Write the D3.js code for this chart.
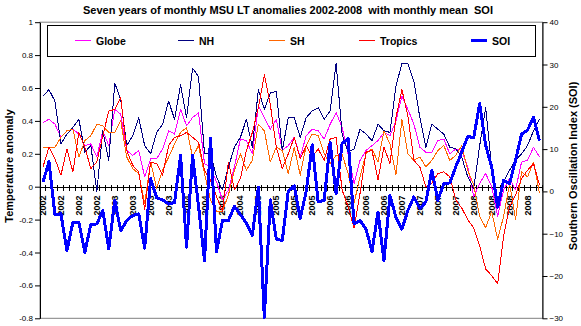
<!DOCTYPE html>
<html>
<head>
<meta charset="utf-8">
<script src="https://cdn.jsdelivr.net/npm/d3@7"></script>
<style>
  body { margin: 0; background: #fff; }
  svg { display: block; font-family: "Liberation Sans", Arial, sans-serif; }
</style>
</head>
<body>
<div id="chart"></div>
<script>
// Years on the category axis, one category per month
var years = [2002, 2003, 2004, 2005, 2006, 2007, 2008];
var monthsPerYear = 12;
var labelEvery = 3;

// MSU LT monthly anomalies (deg C)
var globe = [0.39, 0.41, 0.38, 0.30, 0.34, 0.35, 0.32, 0.25, 0.26, 0.18, 0.34, 0.25,
             0.47, 0.44, 0.22, 0.19, 0.22, 0.06, 0.17, 0.17, 0.23, 0.34, 0.32, 0.47,
             0.37, 0.42, 0.45, 0.14, 0.12, 0.03, -0.08, -0.02, 0.12, 0.29, 0.28, 0.20,
             0.49, 0.42, 0.35, 0.41, 0.22, 0.25, 0.30, 0.18, 0.31, 0.35, 0.34, 0.29,
             0.38, 0.45, 0.36, 0.20, 0.02, 0.16, 0.22, 0.25, 0.28, 0.33, 0.31, 0.40,
             0.55, 0.47, 0.38, 0.24, 0.21, 0.21, 0.28, 0.29, 0.20, 0.23, 0.22, 0.12,
             -0.06, 0.02, 0.08, 0.00, -0.18, -0.02, 0.05, -0.02, 0.15, 0.16, 0.24, 0.18];
var nh = [0.55, 0.59, 0.52, 0.26, 0.32, 0.36, 0.41, 0.21, 0.25, -0.03, 0.34, 0.16,
          0.63, 0.53, 0.25, 0.31, 0.42, 0.25, 0.20, 0.33, 0.38, 0.52, 0.41, 0.62,
          0.42, 0.72, 0.67, 0.20, 0.20, 0.06, -0.02, 0.12, 0.24, 0.30, 0.41, 0.24,
          0.59, 0.47, 0.57, 0.58, 0.22, 0.42, 0.42, 0.30, 0.42, 0.46, 0.48, 0.41,
          0.46, 0.75, 0.32, 0.21, 0.23, 0.35, 0.32, 0.28, 0.38, 0.34, 0.33, 0.61,
          0.75, 0.75, 0.64, 0.42, 0.24, 0.38, 0.35, 0.32, 0.24, 0.23, 0.18, 0.06,
          -0.01, 0.25, 0.48, 0.12, -0.10, 0.03, 0.10, 0.16, 0.20, 0.25, 0.34, 0.41];
var sh = [0.24, 0.24, 0.24, 0.30, 0.34, 0.35, 0.18, 0.28, 0.31, 0.38, 0.37, 0.33,
          0.33, 0.40, 0.18, 0.11, 0.08, -0.10, 0.15, -0.01, 0.10, 0.18, 0.26, 0.33,
          0.36, 0.18, 0.25, 0.08, -0.08, -0.15, -0.15, -0.05, 0.10, 0.20, 0.10, 0.16,
          0.38, 0.34, 0.15, 0.24, 0.22, 0.08, 0.24, 0.07, 0.25, 0.32, 0.31, 0.20,
          0.14, 0.19, 0.20, 0.08, -0.10, 0.06, 0.20, 0.23, 0.15, 0.34, 0.26, 0.07,
          0.41, 0.20, 0.16, 0.18, 0.12, 0.16, 0.22, 0.25, 0.16, 0.19, 0.25, 0.10,
          0.01, -0.18, -0.25, -0.15, -0.32, -0.18, 0.02, -0.20, 0.09, 0.06, 0.15, -0.04];
var tropics = [0.12, 0.24, 0.17, 0.07, 0.23, 0.09, 0.33, 0.24, 0.11, 0.15, 0.31, 0.46,
               0.47, 0.54, 0.22, 0.13, 0.09, -0.14, 0.15, 0.14, 0.07, 0.25, 0.30, 0.31,
               0.33, 0.30, 0.27, 0.10, 0.04, -0.06, -0.15, 0.15, -0.02, 0.05, 0.22, 0.33,
               0.48, 0.68, 0.50, 0.24, 0.11, 0.20, 0.30, 0.17, 0.25, 0.18, 0.23, 0.16,
               0.29, 0.30, -0.02, -0.12, -0.25, -0.04, 0.21, 0.22, 0.04, 0.24, 0.14, 0.42,
               0.59, 0.43, 0.16, 0.12, 0.00, 0.02, 0.08, 0.09, 0.06, -0.08, -0.13, -0.20,
               -0.25, -0.36, -0.50, -0.54, -0.59, -0.30, -0.12, -0.05, 0.05, 0.10, 0.14, 0.01];
// Southern Oscillation Index, monthly mean (secondary axis)
var soi = [2.2, 7.0, -5.5, -5.3, -14.0, -7.3, -7.3, -14.4, -7.8, -7.7, -4.5, -13.6,
           -2.1, -9.3, -6.9, -5.7, -5.3, -13.4, 3.0, -1.5, -2.0, -3.0, -2.6, 8.5,
           -13.2, 8.5, -3.5, -16.4, 12.5, -14.2, -6.9, -6.9, -3.5, -5.5, -7.5, -10.4,
           1.0, -29.8, -2.0, -11.3, -11.6, 0.0, 1.3, -6.4, 0.0, 11.0, -2.5, -2.1,
           11.5, -0.5, 11.3, 12.5, -7.7, -6.9, -8.9, -14.2, -4.9, -16.4, -1.0, -6.1,
           -8.9, -4.5, -1.3, -4.1, -2.5, 5.0, -2.1, 1.8, 2.0, 5.8, 9.3, 13.0,
           12.7, 20.8, 10.9, 5.8, -3.7, 2.6, 1.8, 7.4, 13.5, 14.5, 17.5, 12.0];

var leftTicks = [-0.8, -0.6, -0.4, -0.2, 0, 0.2, 0.4, 0.6, 0.8, 1];
var rightTicks = [-30, -20, -10, 0, 10, 20, 30, 40];

var seriesInfo = [
    { name: 'Globe',   values: globe,   color: '#ff00ff', width: 1, axis: 'left',  lx: 75 },
    { name: 'NH',      values: nh,      color: '#000080', width: 1, axis: 'left',  lx: 178 },
    { name: 'SH',      values: sh,      color: '#ff6600', width: 1, axis: 'left',  lx: 269 },
    { name: 'Tropics', values: tropics, color: '#ff0000', width: 1, axis: 'left',  lx: 359 },
    { name: 'SOI',     values: soi,     color: '#0000ff', width: 3, axis: 'right', lx: 471 }
];

// one category per month, labelled with its year
var categories = [];
years.forEach(function(y) {
    for (var m = 0; m < monthsPerYear; m++) { categories.push(y); }
});

var width = 581, height = 326;
var plot = { left: 40, right: 542.5, top: 22.2, bottom: 318.3 };

var svg = d3.select('#chart').append('svg')
    .attr('width', width)
    .attr('height', height);

var x = d3.scaleBand()
    .domain(d3.range(categories.length))
    .range([plot.left, plot.right]);
var yL = d3.scaleLinear().domain([-0.8, 1]).range([plot.bottom, plot.top]);
var yR = d3.scaleLinear().domain([-30, 40]).range([plot.bottom, plot.top]);

function cx(i) { return x(i) + x.bandwidth() / 2; }

// plot area frame (grey)
svg.append('rect')
    .attr('x', plot.left).attr('y', plot.top)
    .attr('width', plot.right - plot.left).attr('height', plot.bottom - plot.top)
    .attr('fill', 'none').attr('stroke', '#808080').attr('stroke-width', 1);

// title
svg.append('text')
    .attr('x', 288).attr('y', 14)
    .attr('text-anchor', 'middle')
    .style('font-size', '11px').style('font-weight', 'bold')
    .style('white-space', 'pre')
    .text('Seven years of monthly MSU LT anomalies 2002-2008  with monthly mean  SOI');

// left axis
var gL = svg.append('g')
    .attr('transform', 'translate(' + plot.left + ',0)')
    .call(d3.axisLeft(yL).tickValues(leftTicks).tickSize(5).tickSizeOuter(0).tickPadding(2)
        .tickFormat(function(d) { return String(+d.toFixed(1)); }));
// right axis
var gR = svg.append('g')
    .attr('transform', 'translate(' + plot.right + ',0)')
    .call(d3.axisRight(yR).tickValues(rightTicks).tickSize(5).tickSizeOuter(0).tickPadding(2));
[gL, gR].forEach(function(g) {
    g.selectAll('text').style('font-size', '8px').attr('font-family', null);
    g.attr('font-family', null);
    g.selectAll('line, path').attr('stroke', '#000');
});

// category axis at zero of the left scale
var y0 = Math.round(yL(0)) + 0.5;
var gX = svg.append('g');
gX.append('line')
    .attr('x1', plot.left).attr('x2', plot.right)
    .attr('y1', y0).attr('y2', y0)
    .attr('stroke', '#000');
gX.selectAll('line.tick')
    .data(d3.range(categories.length + 1))
    .enter().append('line')
    .attr('class', 'tick')
    .attr('x1', function(k) { return plot.left + k * x.step(); })
    .attr('x2', function(k) { return plot.left + k * x.step(); })
    .attr('y1', y0 - 3).attr('y2', y0 + 3)
    .attr('stroke', '#000')
    .attr('shape-rendering', 'crispEdges');
gX.selectAll('text')
    .data(d3.range(0, categories.length, labelEvery))
    .enter().append('text')
    .attr('transform', function(i) { return 'translate(' + (cx(i) + 3) + ',' + (y0 + 8) + ') rotate(-90)'; })
    .attr('text-anchor', 'end')
    .style('font-size', '9px').style('font-weight', 'bold')
    .text(function(i) { return categories[i]; });

// series lines (aliased like the original bitmap)
seriesInfo.forEach(function(s) {
    var yS = s.axis === 'left' ? yL : yR;
    var line = d3.line()
        .x(function(d, i) { return cx(i); })
        .y(function(d) { return yS(d); });
    svg.append('path')
        .datum(s.values)
        .attr('d', line)
        .attr('fill', 'none')
        .attr('stroke', s.color)
        .attr('stroke-width', s.width)
        .attr('stroke-linejoin', 'round')
        .attr('shape-rendering', 'crispEdges');
});

// axis titles
svg.append('text')
    .attr('transform', 'translate(12.5,166) rotate(-90)')
    .attr('text-anchor', 'middle')
    .style('font-size', '11px').style('font-weight', 'bold')
    .text('Temperature anomaly');
svg.append('text')
    .attr('transform', 'translate(576.5,166) rotate(-90)')
    .attr('text-anchor', 'middle')
    .style('font-size', '11px').style('font-weight', 'bold')
    .text('Southern Oscillation Index (SOI)');

// legend
var legend = svg.append('g');
legend.append('rect')
    .attr('x', 47.5).attr('y', 25.5)
    .attr('width', 488).attr('height', 31)
    .attr('fill', '#fff').attr('stroke', '#000');
var item = legend.selectAll('g.item')
    .data(seriesInfo)
    .enter().append('g').attr('class', 'item');
item.append('line')
    .attr('x1', function(d) { return d.lx; })
    .attr('x2', function(d) { return d.lx + 16; })
    .attr('y1', 40.5).attr('y2', 40.5)
    .attr('stroke', function(d) { return d.color; })
    .attr('stroke-width', function(d) { return d.width; });
item.append('text')
    .attr('x', function(d) { return d.lx + 21; })
    .attr('y', 44.5)
    .style('font-size', '10.5px').style('font-weight', 'bold')
    .text(function(d) { return d.name; });
</script>
</body>
</html>
